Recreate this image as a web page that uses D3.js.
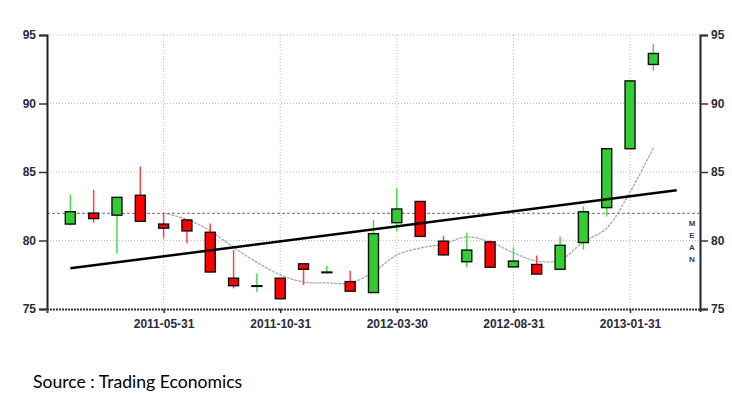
<!DOCTYPE html>
<html>
<head>
<meta charset="utf-8">
<script src="https://cdn.jsdelivr.net/npm/d3@7"></script>
<style>
  body { margin: 0; background: #fff; }
  svg { display: block; }
</style>
</head>
<body>
<div id="graph"></div>
<script>
// monthly candles, 2011-01 .. 2013-02
var dates = ["2011-01-31","2011-02-28","2011-03-31","2011-04-30","2011-05-31","2011-06-30",
  "2011-07-31","2011-08-31","2011-09-30","2011-10-31","2011-11-30","2011-12-31",
  "2012-01-31","2012-02-29","2012-03-30","2012-04-30","2012-05-31","2012-06-30",
  "2012-07-31","2012-08-31","2012-09-30","2012-10-31","2012-11-30","2012-12-31",
  "2013-01-31","2013-02-28"]
var opens  = [81.2, 82.0, 81.85, 83.3, 81.2, 81.5, 80.6, 77.25, 76.65, 77.25, 78.3, 77.65,
  77.0, 76.2, 81.3, 82.85, 79.95, 78.45, 79.9, 78.07, 78.25, 77.9, 79.85, 82.4, 86.7, 92.85]
var highs  = [83.35, 83.7, 83.2, 85.4, 82.0, 81.55, 81.25, 79.3, 77.6, 77.25, 78.3, 78.15,
  77.8, 81.5, 83.8, 82.85, 80.35, 80.55, 80.0, 79.5, 78.9, 80.3, 82.5, 86.7, 91.65, 94.35]
var lows   = [81.1, 81.3, 79.05, 81.35, 80.15, 79.8, 77.65, 76.5, 76.25, 75.75, 76.75, 77.6,
  76.3, 76.2, 80.65, 80.3, 78.9, 78.05, 78.05, 78.05, 77.55, 77.9, 79.35, 81.75, 86.7, 92.4]
var closes = [82.1, 81.6, 83.15, 81.4, 80.9, 80.7, 77.7, 76.7, 76.7, 75.75, 77.9, 77.7,
  76.3, 80.5, 82.3, 80.3, 78.95, 79.3, 78.05, 78.5, 77.55, 79.65, 82.1, 86.7, 91.65, 93.65]

// moving average, starts at the 5th candle
var maStart = 4
var maValues = [82.0, 81.55, 80.7, 79.5, 78.4, 77.5, 76.97, 76.9, 76.9, 77.7, 78.94,
  79.45, 79.74, 80.26, 79.9, 79.1, 78.5, 78.58, 79.9, 80.9, 83.54, 86.75]

var meanValue = 81.98
var trendFrom = [0, 77.97]
var trendTo = [26, 83.66]

var yTicks = [75, 80, 85, 90, 95]
var xTickIdx = [4, 9, 14, 19, 24]

var w = 732, h = 396
var pLeft = 47, pRight = 700, pTop = 35, pBottom = 309

var svg = d3.select('#graph')
  .append('svg')
  .attr("width", w)
  .attr("height", h)
  .style("font-family", "'Liberation Sans', Arial, sans-serif")

var x = d3.scaleLinear().domain([-1, 27]).range([pLeft, pRight])
var y = d3.scaleLinear().domain([75, 95]).range([pBottom, pTop])

// grid
svg.append("g").selectAll("line")
  .data(yTicks.slice(1))
  .enter().append("line")
  .attr("x1", pLeft).attr("x2", pRight)
  .attr("y1", d => y(d)).attr("y2", d => y(d))
  .style("stroke", "#bbb").style("stroke-dasharray", "1,2")

svg.append("g").selectAll("line")
  .data(xTickIdx)
  .enter().append("line")
  .attr("x1", d => x(d)).attr("x2", d => x(d))
  .attr("y1", pTop).attr("y2", pBottom)
  .style("stroke", "#bbb").style("stroke-dasharray", "1,2")

// mean line
svg.append("line")
  .attr("x1", pLeft).attr("x2", pRight)
  .attr("y1", y(meanValue)).attr("y2", y(meanValue))
  .style("stroke", "#888").style("stroke-width", 1.2).style("stroke-dasharray", "3,2")

svg.append("g").selectAll("text")
  .data("MEAN".split(""))
  .enter().append("text")
  .attr("x", 692)
  .attr("y", (d, i) => 226 + i * 12)
  .attr("text-anchor", "middle")
  .style("font-size", "8px").style("font-weight", "bold")
  .style("fill", "#3a3a55")
  .text(d => d)

// moving average
var maLine = d3.line()
  .x((d, i) => x(i + maStart))
  .y(d => y(d))
  .curve(d3.curveCatmullRom)

svg.append("path")
  .attr("d", maLine(maValues))
  .style("fill", "none").style("stroke", "#a8a8a8")
  .style("stroke-width", 1.3).style("stroke-dasharray", "3,1")

// candles
var candles = dates.map((d, i) => ({ i: i, o: opens[i], h: highs[i], l: lows[i], c: closes[i] }))
var bw = 10

var g = svg.append("g").selectAll("g")
  .data(candles)
  .enter().append("g")

g.append("line")
  .attr("x1", d => x(d.i)).attr("x2", d => x(d.i))
  .attr("y1", d => y(d.h)).attr("y2", d => y(d.l))
  .style("stroke", d => d.c >= d.o ? "#44dd44" : "#ff4444")
  .style("stroke-width", 1.5)

g.append("rect")
  .attr("x", d => x(d.i) - bw / 2)
  .attr("width", bw)
  .attr("y", d => y(Math.max(d.o, d.c)))
  .attr("height", d => Math.max(0.5, y(Math.min(d.o, d.c)) - y(Math.max(d.o, d.c))))
  .style("fill", d => d.c >= d.o ? "#33cc33" : "#ff0000")
  .style("stroke", "#111")
  .style("stroke-width", 1.4)

// trend line
svg.append("line")
  .attr("x1", x(trendFrom[0])).attr("y1", y(trendFrom[1]))
  .attr("x2", x(trendTo[0])).attr("y2", y(trendTo[1]))
  .style("stroke", "#000").style("stroke-width", 2.5)

// axes
var labelColor = "#2b2b3b"

var yLeft = svg.append("g")
  .attr("transform", `translate(${pLeft},0)`)
  .call(d3.axisLeft(y).tickValues(yTicks).tickSize(8).tickPadding(3))
var yRight = svg.append("g")
  .attr("transform", `translate(${pRight},0)`)
  .call(d3.axisRight(y).tickValues(yTicks).tickSize(8).tickPadding(3))
var xAxis = svg.append("g")
  .attr("transform", `translate(0,${pBottom})`)
  .call(d3.axisBottom(x).tickValues(xTickIdx).tickFormat(i => dates[i]).tickSize(4).tickPadding(6))

;[yLeft, yRight, xAxis].forEach(a => {
  a.selectAll("text").style("font-size", "12px").style("font-weight", "bold").style("fill", labelColor)
  a.selectAll(".tick line").style("stroke", "#333").style("stroke-width", 1.5)
})
yLeft.select(".domain").style("stroke", "#222").style("stroke-width", 2)
yRight.select(".domain").style("stroke", "#222").style("stroke-width", 2)
xAxis.select(".domain").style("stroke", "#333").style("stroke-width", 2).style("stroke-dasharray", "2,1")

// source
svg.append("text")
  .attr("x", 33).attr("y", 388)
  .style("font-family", "Lato, 'Open Sans', sans-serif")
  .style("font-size", "17.6px")
  .style("fill", "#000")
  .text("Source : Trading Economics")
</script>
</body>
</html>
